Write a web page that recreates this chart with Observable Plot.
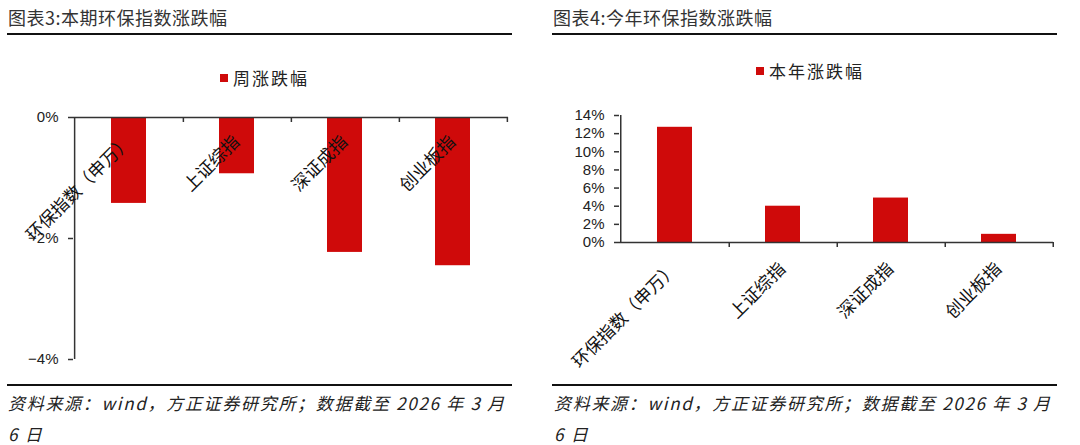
<!DOCTYPE html>
<html><head><meta charset="utf-8">
<script src="https://cdn.jsdelivr.net/npm/d3@7"></script>
<script src="https://cdn.jsdelivr.net/npm/@observablehq/plot@0.6"></script>
<style>
html,body{margin:0;padding:0;background:#fff;}
body{width:1080px;height:445px;position:relative;overflow:hidden;font-family:"Noto Sans CJK SC",sans-serif;}
.panel{position:absolute;top:0;width:540px;height:445px;}
.title{position:absolute;top:8px;font-size:18px;line-height:18px;letter-spacing:0.5px;color:#333;white-space:nowrap;}
.rule{position:absolute;height:2px;background:#111;}
.legend{position:absolute;}
.chart{position:absolute;top:100px;left:0;}
.caption{position:absolute;top:387px;font-size:17px;line-height:31px;letter-spacing:1.7px;font-style:italic;color:#222;white-space:nowrap;}
.lg-swatch > svg{margin-right:5px !important;}
</style></head><body>
<div class="panel" style="left:0">
 <div class="title" style="left:8px">图表3:本期环保指数涨跌幅</div>
 <div class="rule" style="left:7px;width:505px;top:33px"></div>
 <div class="legend" id="lg1" style="left:220px;top:61px"></div>
 <div class="chart" id="c1"></div>
 <div class="rule" style="left:7px;width:505px;top:384px"></div>
 <div class="caption" style="left:8px">资料来源：wind，方正证券研究所；数据截至 2026 年 3 月<br>6 日</div>
</div>
<div class="panel" style="left:540px">
 <div class="title" style="left:13px">图表4:今年环保指数涨跌幅</div>
 <div class="rule" style="left:12px;width:505px;top:33px"></div>
 <div class="legend" id="lg2" style="left:216px;top:54px"></div>
 <div class="chart" id="c2"></div>
 <div class="rule" style="left:12px;width:505px;top:384px"></div>
 <div class="caption" style="left:14px">资料来源：wind，方正证券研究所；数据截至 2026 年 3 月<br>6 日</div>
</div>
<script>
const categories = ["环保指数（申万）", "上证综指", "深证成指", "创业板指"];
const weeklyChange = [-1.42, -0.93, -2.23, -2.45];
const ytdChange = [12.7, 4.0, 4.9, 0.9];
const weeklyTicks = [0, -2, -4];
const ytdTicks = [0, 2, 4, 6, 8, 10, 12, 14];
const weeklyName = "周涨跌幅";
const ytdName = "本年涨跌幅";
const barColor = "#cf0a0a";
const axisColor = "#333";

const pct = d => (d < 0 ? "\u2212" : "") + Math.abs(d) + "%";

function makeChart({values, ticks, domain, marginTop, marginBottom, marginLeft, marginRight, labelDy}) {
  const width = 540, height = 280;
  const rows = categories.map((c, i) => ({cat: c, v: values[i]}));
  const step = (width - marginLeft - marginRight) / categories.length;
  return Plot.plot({
    width, height, marginTop, marginBottom, marginLeft, marginRight,
    style: {fontFamily: "'Liberation Sans', Arial, sans-serif", fontSize: "15px", color: "#222", background: "#fff", overflow: "visible"},
    x: {type: "band", domain: categories, paddingInner: 0.68, paddingOuter: 0.34, axis: null},
    y: {domain},
    marks: [
      Plot.barY(rows, {x: "cat", y: "v", fill: barColor}),
      Plot.ruleY([0], {stroke: axisColor, strokeWidth: 1.5}),
      // y axis line at left edge of first band step
      Plot.ruleX([categories[0]], {x: d => d, dx: -step / 2, stroke: axisColor, strokeWidth: 1.5}),
      // category boundary ticks hanging below the zero line
      Plot.ruleX(rows, {x: "cat", dx: step / 2, y1: () => 0, y2: () => 0, insetTop: 0, insetBottom: -5, stroke: axisColor, strokeWidth: 1.5}),
      Plot.axisY({ticks, tickFormat: pct, tickSize: 5, tickPadding: 10, label: null, stroke: axisColor, strokeWidth: 1.5}),
      Plot.text(rows, {x: "cat", y: () => 0, text: "cat", rotate: -45, textAnchor: "end", lineAnchor: "bottom",
        dx: 3.5, dy: labelDy, fontSize: 17.5, fontFamily: "'Noto Sans CJK SC'", fill: "#111"})
    ]
  });
}

function legend(name) {
  return Plot.legend({color: {type: "ordinal", domain: [name], range: [barColor]}, swatchSize: 8, className: "lg",
    style: {fontSize: "17px", fontFamily: "'Noto Sans CJK SC'", letterSpacing: "2px", color: "#222"}});
}

document.getElementById("c1").append(makeChart({values: weeklyChange, ticks: weeklyTicks, domain: [-4, 0],
  marginTop: 17, marginBottom: 21, marginLeft: 73, marginRight: 32, labelDy: 25.5}));
document.getElementById("c2").append(makeChart({values: ytdChange, ticks: ytdTicks, domain: [0, 14],
  marginTop: 15, marginBottom: 138, marginLeft: 79, marginRight: 27, labelDy: 27.5}));
document.getElementById("lg1").append(legend(weeklyName));
document.getElementById("lg2").append(legend(ytdName));
</script>
</body></html>
